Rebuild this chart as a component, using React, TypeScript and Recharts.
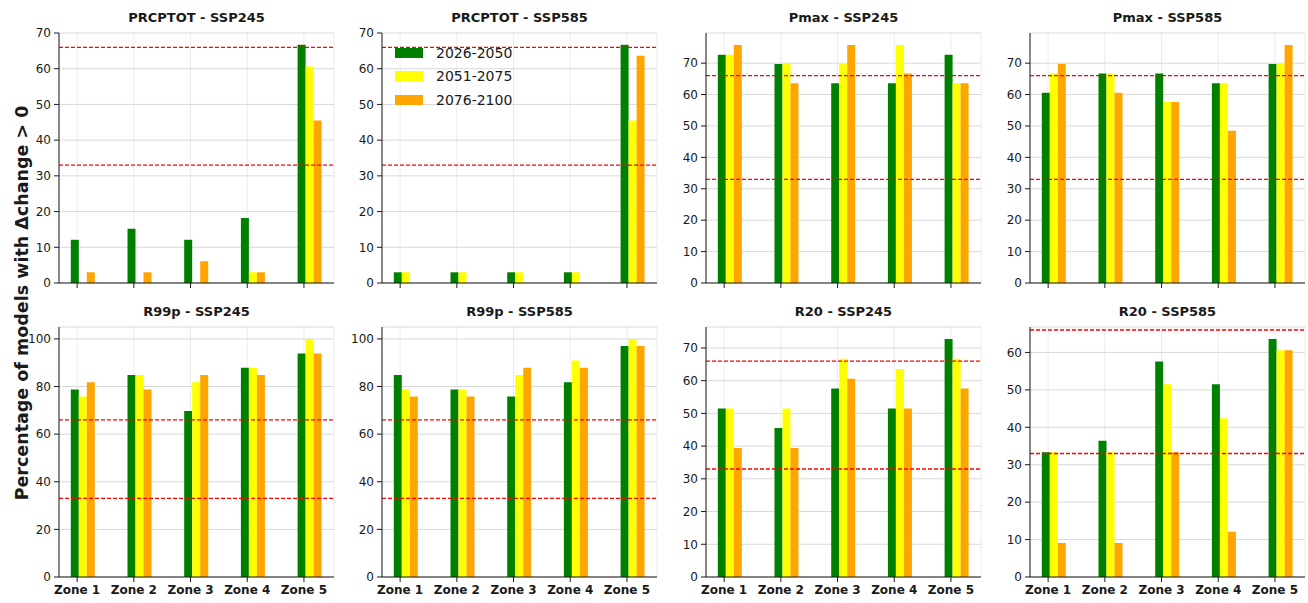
import React from "react";
import {
  Bar,
  BarChart,
  CartesianGrid,
  Legend,
  ReferenceLine,
  XAxis,
  YAxis
} from "recharts";

const zones = ["Zone 1", "Zone 2", "Zone 3", "Zone 4", "Zone 5"];
const periods = ["2026-2050", "2051-2075", "2076-2100"];

// share of 33 models
const prcptot245Early = [12.1, 15.2, 12.1, 18.2, 66.7];
const prcptot245Mid = [0, 0, 0, 3.0, 60.6];
const prcptot245Late = [3.0, 3.0, 6.1, 3.0, 45.5];

const prcptot585Early = [3.0, 3.0, 3.0, 3.0, 66.7];
const prcptot585Mid = [3.0, 3.0, 3.0, 3.0, 45.5];
const prcptot585Late = [0, 0, 0, 0, 63.6];

const pmax245Early = [72.7, 69.7, 63.6, 63.6, 72.7];
const pmax245Mid = [72.7, 69.7, 69.7, 75.8, 63.6];
const pmax245Late = [75.8, 63.6, 75.8, 66.7, 63.6];

const pmax585Early = [60.6, 66.7, 66.7, 63.6, 69.7];
const pmax585Mid = [66.7, 66.7, 57.6, 63.6, 69.7];
const pmax585Late = [69.7, 60.6, 57.6, 48.5, 75.8];

const r99p245Early = [78.8, 84.8, 69.7, 87.9, 93.9];
const r99p245Mid = [75.8, 84.8, 81.8, 87.9, 100];
const r99p245Late = [81.8, 78.8, 84.8, 84.8, 93.9];

const r99p585Early = [84.8, 78.8, 75.8, 81.8, 97.0];
const r99p585Mid = [78.8, 78.8, 84.8, 90.9, 100];
const r99p585Late = [75.8, 75.8, 87.9, 87.9, 97.0];

const r20245Early = [51.5, 45.5, 57.6, 51.5, 72.7];
const r20245Mid = [51.5, 51.5, 66.7, 63.6, 66.7];
const r20245Late = [39.4, 39.4, 60.6, 51.5, 57.6];

const r20585Early = [33.3, 36.4, 57.6, 51.5, 63.6];
const r20585Mid = [33.3, 33.3, 51.5, 42.4, 60.6];
const r20585Late = [9.1, 9.1, 33.3, 12.1, 60.6];

const ticks0to70 = [0, 10, 20, 30, 40, 50, 60, 70];
const ticks0to100 = [0, 20, 40, 60, 80, 100];
const ticks0to60 = [0, 10, 20, 30, 40, 50, 60];
const thresholds = [33, 66];

const colors = ["#008000", "#ffff00", "#ffa500"];
const font = "'DejaVu Sans', sans-serif";
const ink = "#1a1a1a";

const PLOT_W = 275;
const PLOT_H = 250;
const Y_W = 45;
const X_H = 30;
const TOP_PAD = 10;
const X_DOMAIN = [-0.32, 4.53];

type PanelProps = {
  title: string;
  early: number[];
  mid: number[];
  late: number[];
  yMax: number;
  yTicks: number[];
  left: number;
  top: number;
  zoneLabels: boolean;
  legend?: boolean;
};

function LegendBox({ payload }: any) {
  const items = (payload || []).filter((e: any) => periods.includes(e.value));
  return (
    <div style={{ fontFamily: font }}>
      {items.map((entry: any) => (
        <div
          key={entry.value}
          style={{ display: "flex", alignItems: "center", height: 23.5 }}
        >
          <span
            style={{
              width: 28,
              height: 10,
              background: entry.color,
              marginRight: 13,
              display: "inline-block"
            }}
          />
          <span style={{ fontSize: 14, color: ink }}>{entry.value}</span>
        </div>
      ))}
    </div>
  );
}

function Panel({
  title,
  early,
  mid,
  late,
  yMax,
  yTicks,
  left,
  top,
  zoneLabels,
  legend
}: PanelProps) {
  const data = zones.map((zone, i) => ({
    x: i,
    zone,
    early: early[i],
    mid: mid[i],
    late: late[i]
  }));

  return (
    <>
      <div
        style={{
          position: "absolute",
          left,
          top: top - 23,
          width: PLOT_W,
          textAlign: "center",
          fontFamily: font,
          fontWeight: "bold",
          fontSize: 13,
          color: ink
        }}
      >
        {title}
      </div>
      <div style={{ position: "absolute", left: left - Y_W, top: top - TOP_PAD }}>
        <BarChart
          width={Y_W + PLOT_W + 5}
          height={TOP_PAD + PLOT_H + X_H}
          data={data}
          margin={{ top: TOP_PAD, right: 5, bottom: 0, left: 0 }}
          barGap={0}
        >
          <CartesianGrid stroke="#ececec" horizontal={false} />
          <CartesianGrid stroke="#d9d9d9" vertical={false} />
          <XAxis
            type="number"
            dataKey="x"
            domain={X_DOMAIN}
            ticks={[0, 1, 2, 3, 4]}
            interval={0}
            allowDataOverflow
            height={X_H}
            tickSize={5}
            tickMargin={3}
            stroke={ink}
            tickFormatter={(v: number) => (zoneLabels ? zones[v] : "")}
            tick={{ fontSize: 12, fontWeight: "bold", fill: ink, fontFamily: font }}
          />
          <XAxis
            xAxisId="frame"
            orientation="top"
            type="number"
            dataKey="x"
            domain={X_DOMAIN}
            allowDataOverflow
            height={0}
            tick={false}
            tickLine={false}
            stroke={ink}
          />
          <YAxis
            type="number"
            domain={[0, yMax]}
            ticks={yTicks}
            interval={0}
            allowDataOverflow
            width={Y_W}
            tickSize={5}
            tickMargin={3}
            stroke={ink}
            tick={{ fontSize: 12, fill: ink, fontFamily: font }}
          />
          <YAxis
            yAxisId="frame"
            orientation="right"
            type="number"
            domain={[0, yMax]}
            allowDataOverflow
            width={0}
            tick={false}
            tickLine={false}
            stroke={ink}
          />
          {thresholds.map((t) => (
            <ReferenceLine
              key={t}
              y={t}
              stroke="#ff0000"
              strokeDasharray="4 2"
              strokeWidth={1.3}
            />
          ))}
          <Bar dataKey="gap" barSize={12} legendType="none" isAnimationActive={false} />
          <Bar dataKey="early" name={periods[0]} fill={colors[0]} barSize={8} isAnimationActive={false} />
          <Bar dataKey="mid" name={periods[1]} fill={colors[1]} barSize={8} isAnimationActive={false} />
          <Bar dataKey="late" name={periods[2]} fill={colors[2]} barSize={8} isAnimationActive={false} />
          {legend && (
            <Legend
              layout="vertical"
              align="center"
              verticalAlign="middle"
              content={LegendBox}
              wrapperStyle={{ left: 58, top: 18, width: "auto", height: "auto" }}
            />
          )}
        </BarChart>
      </div>
    </>
  );
}

const colLeft = [59, 382, 706, 1030];
const rowTop = [33, 327];

export default function App() {
  return (
    <div
      style={{
        position: "absolute",
        left: 0,
        top: 0,
        width: 1308,
        height: 603,
        background: "#fff",
        overflow: "hidden"
      }}
    >
      <div
        style={{
          position: "absolute",
          left: 22,
          top: 303,
          transform: "translate(-50%, -50%) rotate(-90deg)",
          whiteSpace: "nowrap",
          fontFamily: font,
          fontWeight: "bold",
          fontSize: 17.5,
          color: ink
        }}
      >
        Percentage of models with Δchange &gt; 0
      </div>

      <Panel title="PRCPTOT - SSP245" early={prcptot245Early} mid={prcptot245Mid} late={prcptot245Late}
        yMax={70} yTicks={ticks0to70} left={colLeft[0]} top={rowTop[0]} zoneLabels={false} />
      <Panel title="PRCPTOT - SSP585" early={prcptot585Early} mid={prcptot585Mid} late={prcptot585Late}
        yMax={70} yTicks={ticks0to70} left={colLeft[1]} top={rowTop[0]} zoneLabels={false} legend />
      <Panel title="Pmax - SSP245" early={pmax245Early} mid={pmax245Mid} late={pmax245Late}
        yMax={79.6} yTicks={ticks0to70} left={colLeft[2]} top={rowTop[0]} zoneLabels={false} />
      <Panel title="Pmax - SSP585" early={pmax585Early} mid={pmax585Mid} late={pmax585Late}
        yMax={79.6} yTicks={ticks0to70} left={colLeft[3]} top={rowTop[0]} zoneLabels={false} />

      <Panel title="R99p - SSP245" early={r99p245Early} mid={r99p245Mid} late={r99p245Late}
        yMax={105} yTicks={ticks0to100} left={colLeft[0]} top={rowTop[1]} zoneLabels />
      <Panel title="R99p - SSP585" early={r99p585Early} mid={r99p585Mid} late={r99p585Late}
        yMax={105} yTicks={ticks0to100} left={colLeft[1]} top={rowTop[1]} zoneLabels />
      <Panel title="R20 - SSP245" early={r20245Early} mid={r20245Mid} late={r20245Late}
        yMax={76.4} yTicks={ticks0to70} left={colLeft[2]} top={rowTop[1]} zoneLabels />
      <Panel title="R20 - SSP585" early={r20585Early} mid={r20585Mid} late={r20585Late}
        yMax={66.8} yTicks={ticks0to60} left={colLeft[3]} top={rowTop[1]} zoneLabels />
    </div>
  );
}
